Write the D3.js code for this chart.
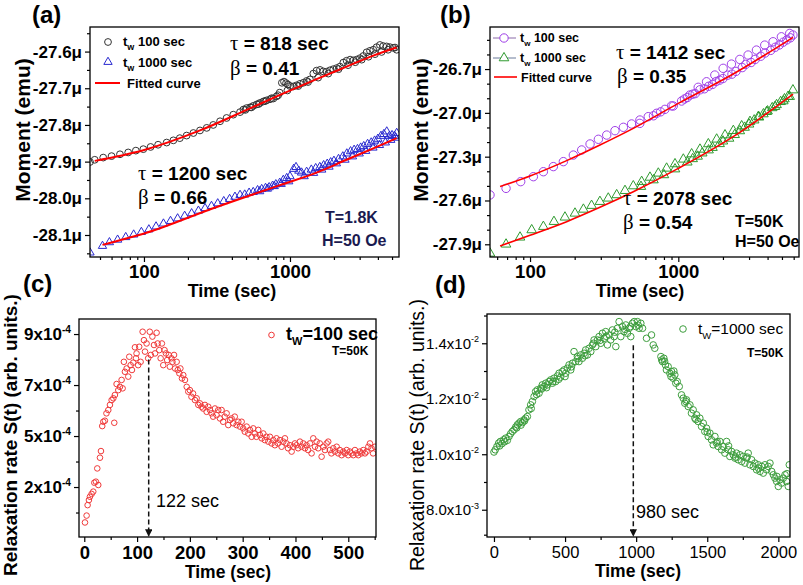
<!DOCTYPE html>
<html><head><meta charset="utf-8">
<script src="https://cdn.jsdelivr.net/npm/d3@7"></script>
<style>body{margin:0;background:#fff}svg{display:block}</style>
</head><body><svg id="c" width="803" height="585"></svg>
<script>
// ---------------- DATA ----------------
// Panel (a): T=1.8K, moment in μemu vs time (s)
const aPts100 = [[42.7,-27.901],[46,-27.895],[52.6,-27.889],[60,-27.885],[68.5,-27.880],[78,-27.875],[88,-27.870],[99,-27.866],[111,-27.860],[125,-27.854],[143,-27.848],[159,-27.842],[176,-27.836],[196,-27.829],[218,-27.822],[242,-27.815],[269,-27.808],[298,-27.800],[332,-27.790],[368,-27.781],[409,-27.772],[455,-27.765],[480,-27.758],[505,-27.754],[533,-27.752],[561,-27.748],[592,-27.744],[623,-27.740],[657,-27.736],[692,-27.733],[730,-27.730],[769,-27.728],[810,-27.722],[850,-27.712],[880,-27.685],[910,-27.682],[940,-27.686],[970,-27.690],[1000,-27.694],[1054,-27.695],[1110,-27.692],[1171,-27.688],[1235,-27.685],[1301,-27.680],[1370,-27.676],[1445,-27.660],[1520,-27.652],[1604,-27.650],[1690,-27.654],[1782,-27.655],[1880,-27.651],[1980,-27.648],[2090,-27.645],[2200,-27.641],[2320,-27.630],[2443,-27.625],[2580,-27.622],[2715,-27.624],[2860,-27.622],[3015,-27.618],[3180,-27.612],[3350,-27.602],[3530,-27.598],[3720,-27.595],[3920,-27.588],[4130,-27.582],[4350,-27.585],[4590,-27.586],[4840,-27.588],[5100,-27.590],[5380,-27.595],
[495,-27.759],[545,-27.752],[610,-27.743],[675,-27.735],[750,-27.727],[830,-27.719],[960,-27.706],[1140,-27.694],[1330,-27.683],[1560,-27.671],[1830,-27.660],[2150,-27.648],[2500,-27.637],[2800,-27.629],[3100,-27.622],[3450,-27.614],[3820,-27.607],[4240,-27.601],[4700,-27.595],[5240,-27.589]];
const aPts1000 = [[42.7,-28.148],[52,-28.130],[58,-28.120],[66,-28.113],[75,-28.106],[85,-28.099],[96,-28.092],[108,-28.085],[121,-28.077],[136,-28.069],[152,-28.062],[170,-28.055],[190,-28.048],[212,-28.041],[236,-28.034],[262,-28.027],[290,-28.021],[320,-28.014],[352,-28.008],[386,-28.002],[420,-27.996],[455,-27.991],[490,-27.990],[525,-27.985],[560,-27.983],[600,-27.978],[640,-27.975],[680,-27.972],[720,-27.970],[760,-27.966],[800,-27.962],[850,-27.958],[900,-27.950],[950,-27.945],[1000,-27.940],[1060,-27.920],[1100,-27.915],[1150,-27.925],[1200,-27.930],[1300,-27.928],[1400,-27.922],[1500,-27.918],[1600,-27.915],[1700,-27.910],[1800,-27.906],[1900,-27.902],[2000,-27.898],[2150,-27.893],[2300,-27.886],[2450,-27.878],[2600,-27.872],[2750,-27.868],[2900,-27.866],[3050,-27.862],[3200,-27.858],[3400,-27.852],[3600,-27.848],[3800,-27.843],[4000,-27.838],[4200,-27.830],[4400,-27.825],[4600,-27.818],[4800,-27.830],[5000,-27.828],[5200,-27.830],[5380,-27.822],
[620,-27.981],[700,-27.974],[780,-27.967],[870,-27.961],[980,-27.954],[1250,-27.940],[1450,-27.931],[1650,-27.922],[1850,-27.914],[2080,-27.905],[2380,-27.895],[2680,-27.886],[2980,-27.878],[3300,-27.871],[3700,-27.862],[4100,-27.855],[4500,-27.848],[4900,-27.841],[5300,-27.835]];
const aFit100  = [[46,-27.898],[99,-27.869],[242,-27.815],[505,-27.759],[855,-27.718],[1520,-27.675],[2443,-27.641],[3720,-27.611],[5380,-27.589]];
const aFit1000 = [[52,-28.127],[104,-28.094],[298,-28.027],[855,-27.964],[1520,-27.930],[2440,-27.895],[3720,-27.864],[5380,-27.836]];

// Panel (b): T=50K
const bPts100 = [[53.7,-27.562],[68.9,-27.517],[86.5,-27.471],[105.3,-27.437],[123,-27.403],[143.6,-27.368],[167.8,-27.334],[195.9,-27.289],[223,-27.254],[254,-27.213],[289,-27.181],[329,-27.152],[374,-27.122],[426,-27.099],[484,-27.076],[551,-27.049],[627,-27.026],[714,-27.003],[812,-26.976],[924,-26.953],[1052,-26.919],[1197,-26.878],[1362,-26.825],[1550,-26.787],[1763,-26.741],[2006,-26.695],[2283,-26.666],[2598,-26.634],[2956,-26.604],[3364,-26.570],[3828,-26.536],[4356,-26.513],[4956,-26.479],[5640,-26.456],[5930,-26.467],
[550,-27.072],[680,-27.020],[760,-26.993],[900,-26.952],[1100,-26.905],[1300,-26.868],[1500,-26.835],[1700,-26.805],[2000,-26.765],[2300,-26.735],[2700,-26.690],[3100,-26.655],[3600,-26.612],[4200,-26.572],[4800,-26.535],[5400,-26.500],
[1150,-26.895],[1250,-26.872],[1400,-26.842],[1600,-26.818],[1800,-26.785],[1900,-26.776],[2150,-26.742],[2450,-26.716],[2850,-26.668],[3300,-26.634],[3850,-26.590],[4500,-26.551],[5100,-26.516],[5700,-26.486]];
const bPts1000 = [[53.7,-27.962],[68.9,-27.900],[85.6,-27.852],[102.6,-27.802],[123,-27.779],[145,-27.745],[172,-27.715],[201,-27.688],[229,-27.661],[260,-27.635],[296,-27.608],[337,-27.585],[384,-27.562],[437,-27.533],[497,-27.501],[566,-27.471],[644,-27.442],[733,-27.414],[834,-27.380],[950,-27.350],[1081,-27.318],[1230,-27.282],[1400,-27.250],[1594,-27.213],[1814,-27.181],[2065,-27.152],[2350,-27.122],[2675,-27.090],[3044,-27.060],[3465,-27.026],[3944,-26.992],[4488,-26.958],[5108,-26.919],[5640,-26.889],[5930,-26.844],
[560,-27.505],[680,-27.460],[800,-27.425],[950,-27.385],[1150,-27.338],[1350,-27.298],[1600,-27.255],[1900,-27.212],[2200,-27.175],[2600,-27.124],[3000,-27.078],[3500,-27.030],[4000,-26.988],[4600,-26.945],[5200,-26.905],
[1250,-27.315],[1450,-27.276],[1700,-27.238],[2000,-27.194],[2400,-27.150],[2800,-27.100],[3250,-27.050],[3750,-27.008],[4300,-26.966],[4900,-26.924],[5500,-26.888]];
const bFit100  = [[62.8,-27.505],[100,-27.432],[176.6,-27.327],[296,-27.220],[497,-27.106],[1000,-26.935],[2345,-26.734],[5940,-26.483]];
const bFit1000 = [[62.8,-27.911],[100,-27.838],[176.6,-27.745],[296,-27.647],[497,-27.540],[1000,-27.380],[2345,-27.163],[5940,-26.871]];

// Panel (c): relaxation rate (units of 1e-4), tw = 100 s
const cPts = [[1.3,1.61],[4.4,1.88],[6.3,2.29],[8.8,2.49],[10.7,2.62],[13.9,2.73],[17,2.82],[19,3.17],[22,3.21],[24.6,3.73],[26.5,3.08],[29.7,4.15],[31.6,4.41],[34,5.39],[36,5.56],[39,5.6],[42,5.89],[45.5,6.02],[48.6,6.22],[51.8,6.41],[55,6.48],[56.8,5.52],[58,6.61],[61.2,7.04],[64.4,6.8],[67.5,6.93],[70.7,7.2],[72.6,6.87],[75,7.91],[77,7.52],[80.2,7.65],[83.3,7.33],[85.2,8.11],[87.8,7.78],[90.3,7.59],[92.8,7.88],[96,8.48],[97.9,8.05],[99,8.24],[102,7.78],[104,8.5],[106.7,7.91],[110.5,9.09],[113,8.76],[115,8.31],[118,8.63],[121,8.05],[124,9.09],[126,8.18],[129,8.9],[132,8.57],[134,8.24],[137,9.05],[139,8.63],[142,8.37],[144.6,8.05],[147,8.63],[149.6,7.78],[152,8.37],[154.7,8.24],[157,7.98],[160,8.18],[162,7.72],[165,8.05],[167,7.91],[170,8.18],[172,7.65],[175,7.91],[177,7.59],[180,7.46],[182,7.65],[185,7.26],[187.5,7.39],[190.7,7.2],[194,6.93],[197,6.74],[200,6.8],[203,6.54],[206,6.67],[209.6,6.41],[212.8,6.48],[216,6.22],[219,6.28],[222,6.15],[225,6.08],[228.5,6.22],[231.7,5.95],[234.8,6.15],[238,6.02],[241,5.89],[244,5.76],[247.5,6.08],[250.6,5.82],[253.8,6.02],[257,5.69],[260,6.02],[263,5.56],[266,5.76],[269.6,5.89],[272.7,5.43],[276,5.63],[279,5.69],[282,5.5],[285,5.76],[288.5,5.43],[291.7,5.56],[294.8,5.37],[298,5.56],[301,5.3],[304,5.17],[307.5,5.37],[310.6,5.1],[313.8,5.24],[317,4.97],[320,5.3],[323,5.1],[326,4.97],[329.5,5.24],[332.7,5.04],[336,4.91],[339,5.1],[342,4.84],[345,4.97],[348.5,4.78],[351.6,4.97],[354.8,4.71],[358,4.84],[361,4.64],[364,4.91],[367,4.71],[370.6,4.84],[373.7,4.58],[377,4.78],[380,4.91],[383,4.71],[386,4.52],[389.5,4.64],[392.7,4.39],[395.8,4.58],[399,4.71],[402,4.64],[405,4.52],[408.5,4.78],[411.6,4.58],[414.8,4.71],[418,4.52],[421,4.64],[424,4.45],[427.4,4.71],[430.5,4.32],[433.7,4.91],[437,4.58],[440,4.78],[443,4.52],[446,4.71],[449.5,4.19],[452.6,4.58],[455.8,4.45],[459,4.71],[462,4.78],[465,4.45],[468,4.32],[471.6,4.52],[474.7,4.39],[478,4.58],[481,4.32],[484,4.45],[487.4,4.25],[490.5,4.39],[493.7,4.32],[497,4.45],[500,4.25],[503,4.39],[506,4.32],[509.5,4.25],[512.6,4.45],[515.8,4.32],[519,4.25],[522,4.39],[525,4.32],[528.4,4.45],[531.6,4.32],[534.7,4.39],[538,4.58],[541,4.71],[544,4.52],[547,4.32],[550.5,4.58]];
const cPeak = 122;

// Panel (d): relaxation rate (units of 1e-2), tw = 1000 s
const dPts = [[0,1.008],[9,1.016],[21,1.028],[33,1.04],[45,1.046],[56,1.038],[68,1.052],[82,1.058],[94,1.05],[106,1.064],[117,1.074],[129,1.082],[141,1.088],[153,1.098],[164,1.106],[176,1.112],[188,1.118],[200,1.114],[211,1.124],[223,1.13],[235,1.136],[246,1.16],[258,1.178],[270,1.19],[282,1.208],[293,1.226],[305,1.232],[317,1.22],[329,1.238],[340,1.25],[352,1.244],[364,1.256],[376,1.25],[387,1.262],[399,1.268],[411,1.256],[422,1.274],[434,1.262],[446,1.282],[458,1.292],[469,1.278],[481,1.298],[493,1.304],[505,1.292],[516,1.31],[528,1.322],[540,1.304],[552,1.328],[563,1.37],[575,1.334],[587,1.352],[598,1.334],[610,1.358],[622,1.346],[634,1.364],[645,1.376],[657,1.358],[669,1.382],[681,1.37],[692,1.394],[704,1.412],[716,1.388],[728,1.412],[739,1.424],[751,1.4],[763,1.436],[775,1.418],[786,1.442],[798,1.394],[810,1.43],[821,1.412],[833,1.448],[845,1.424],[857,1.388],[868,1.454],[880,1.478],[892,1.424],[904,1.46],[915,1.442],[927,1.466],[939,1.436],[951,1.454],[962,1.424],[974,1.472],[986,1.478],[998,1.46],[1009,1.478],[1021,1.454],[1033,1.472],[1045,1.454],[1073,1.418],[1108,1.43],[1120,1.394],[1131,1.382],
[1174,1.352],[1185,1.334],[1195,1.346],[1206,1.322],[1213,1.304],[1225,1.316],[1237,1.292],[1249,1.298],[1260,1.274],[1272,1.286],[1279,1.256],[1289,1.262],[1303,1.244],[1319,1.214],[1331,1.202],[1342,1.184],[1354,1.196],[1366,1.172],[1378,1.178],[1389,1.148],[1401,1.16],[1413,1.13],[1425,1.142],[1436,1.118],[1448,1.13],[1460,1.1],[1472,1.112],[1483,1.082],[1495,1.094],[1507,1.064],[1519,1.076],[1530,1.052],[1542,1.034],[1554,1.064],[1565,1.04],[1577,1.028],[1589,1.046],[1601,1.016],[1612,1.028],[1624,1.004],[1636,1.046],[1648,1.016],[1659,0.992],[1671,1.01],[1683,0.998],[1695,0.986],[1706,1.004],[1718,0.98],[1730,0.998],[1742,0.974],[1753,0.992],[1765,0.968],[1777,0.986],[1788,1.004],[1800,0.962],[1812,0.98],[1824,0.956],[1835,0.968],[1847,0.944],[1859,0.962],[1871,0.938],[1883,0.956],[1894,0.932],[1906,0.962],[1918,0.944],[1929,0.956],[1941,0.968],[1953,0.938],[1965,0.926],[1976,0.914],[1988,0.902],[2000,0.884],[2011,0.908],[2023,0.896],[2035,0.914],[2047,0.926],[2058,0.902],[2070,0.884],[2077,0.962],
[40,1.03],[75,1.045],[160,1.095],[190,1.105],[215,1.12],[262,1.165],[300,1.215],[335,1.235],[370,1.24],[415,1.262],[455,1.27],[500,1.28],[545,1.315],[590,1.345],[640,1.355],[700,1.4],[745,1.41],[790,1.425],[850,1.44],[920,1.45],[960,1.46],[1015,1.465],[1180,1.34],[1200,1.335],[1245,1.28],[1265,1.3],[1350,1.19],[1420,1.125],[1500,1.08],[1570,1.045],[1650,1.03],[1700,0.99],[1780,0.99],[1860,0.95],[1990,0.92],[2060,0.93]];
const dPeak = 980;

// Tick values / labels
const abXTicks = [100, 1000];
const aYTicks = [-27.6, -27.7, -27.8, -27.9, -28.0, -28.1];
const bYTicks = [-26.7, -27.0, -27.3, -27.6, -27.9];
const cXTicks = [0, 100, 200, 300, 400, 500];
const cYTicks = [9, 7, 5, 3];
const cYLabels = ["9x10", "7x10", "5x10", "2x10"];
const cYExp = ["-4", "-4", "-4", "-4"];
const dXTicks = [0, 500, 1000, 1500, 2000];
const dYTicks = [1.4, 1.2, 1.0, 0.8];
const dYLabels = ["1.4x10", "1.2x10", "1.0x10", "8.0x10"];
const dYExp = ["-2", "-2", "-2", "-3"];

// ---------------- DRAWING ----------------
const FONT = '"Liberation Sans", Arial, Helvetica, sans-serif';
const SERIF = '"Liberation Serif", "Times New Roman", serif';
const svg = d3.select("#c");
svg.append("rect").attr("width", 803).attr("height", 585).attr("fill", "#fff");
const defs = svg.append("defs");
defs.append("marker").attr("id", "arr").attr("viewBox", "0 0 10 10").attr("refX", 9).attr("refY", 5)
  .attr("markerWidth", 5).attr("markerHeight", 5).attr("orient", "auto")
  .append("path").attr("d", "M0,0L10,5L0,10Z").attr("fill", "#111");

function clip(id, b) {
  defs.append("clipPath").attr("id", id).append("rect")
    .attr("x", b.x0).attr("y", b.y0).attr("width", b.x1 - b.x0).attr("height", b.y1 - b.y0);
}
function frame(b) {
  svg.append("rect").attr("x", b.x0).attr("y", b.y0).attr("width", b.x1 - b.x0).attr("height", b.y1 - b.y0)
    .attr("fill", "none").attr("stroke", "#000").attr("stroke-width", 1.3);
}
function styleAxis(a, fs, fw) {
  a.select(".domain").remove();
  a.selectAll("line").attr("stroke", "#000").attr("stroke-width", 1.2);
  a.selectAll("text").attr("font-family", FONT).attr("font-size", fs).attr("font-weight", fw).attr("fill", "#000");
}
function yAxis(b, scale, majors, minors, fmt, fs, fw, exps) {
  const a = svg.append("g").attr("transform", `translate(${b.x0},0)`)
    .call(d3.axisLeft(scale).tickValues(majors).tickSize(5).tickSizeOuter(0).tickPadding(3).tickFormat(fmt));
  styleAxis(a, fs, fw);
  if (exps) a.selectAll("text").each(function (d, i) {
    d3.select(this).append("tspan").attr("dy", -fs * 0.42).attr("font-size", fs * 0.6).text(exps[i]);
  });
  const m = svg.append("g").attr("transform", `translate(${b.x0},0)`)
    .call(d3.axisLeft(scale).tickValues(minors).tickSize(3).tickSizeOuter(0).tickFormat(""));
  styleAxis(m, fs, fw);
}
function xAxis(b, scale, majors, minors, fmt, fs, fw, pad) {
  const a = svg.append("g").attr("transform", `translate(0,${b.y1})`)
    .call(d3.axisBottom(scale).tickValues(majors).tickSize(5).tickSizeOuter(0).tickPadding(pad).tickFormat(fmt));
  styleAxis(a, fs, fw);
  const m = svg.append("g").attr("transform", `translate(0,${b.y1})`)
    .call(d3.axisBottom(scale).tickValues(minors).tickSize(3).tickSizeOuter(0).tickFormat(""));
  styleAxis(m, fs, fw);
}
function txt(x, y, s, fs, fw, opts = {}) {
  const t = svg.append("text").attr("x", x).attr("y", y).attr("font-family", FONT)
    .attr("font-size", fs).attr("font-weight", fw).attr("fill", opts.fill || "#000").text(s);
  if (opts.anchor) t.attr("text-anchor", opts.anchor);
  return t;
}
function vtxt(x, y, s, fs, fw) {
  svg.append("text").attr("transform", `translate(${x},${y}) rotate(-90)`).attr("text-anchor", "middle")
    .attr("font-family", FONT).attr("font-size", fs).attr("font-weight", fw).attr("fill", "#000").text(s);
}
function greek(x, y, sym, rest, fs) {
  const t = svg.append("text").attr("x", x).attr("y", y).attr("font-family", FONT).attr("font-size", fs)
    .attr("font-weight", "bold").attr("fill", "#000");
  t.append("tspan").attr("font-family", SERIF).attr("font-weight", "normal").attr("font-size", fs * 1.1).text(sym);
  t.append("tspan").text(rest);
}
function subLabel(x, y, main, sub, rest, fs, fw, subfs, subdy) {
  const t = svg.append("text").attr("x", x).attr("y", y).attr("font-family", FONT).attr("font-size", fs)
    .attr("font-weight", fw).attr("fill", "#000");
  t.append("tspan").text(main);
  t.append("tspan").attr("font-size", subfs).attr("dy", subdy).text(sub);
  t.append("tspan").attr("dy", -subdy).text(rest);
}
const logMinors = (lo, hi) => {
  const out = [];
  [10, 100, 1000].forEach(dec => { for (let k = 2; k <= 9; k++) { const v = k * dec; if (v > lo && v < hi) out.push(v); } });
  return out;
};
const tri = (area) => d3.symbol().type(d3.symbolTriangle).size(area)();

// ===== Panel (a) =====
const A = { x0: 90, y0: 27, x1: 399, y1: 257 };
const ax = d3.scaleLog().domain([42.7, 5580]).range([A.x0, A.x1]);
const ay = d3.scaleLinear().domain([-28.16, -27.533]).range([A.y1, A.y0]);
clip("clipA", A);
const gA = svg.append("g").attr("clip-path", "url(#clipA)");
gA.selectAll("path.t").data(aPts1000).join("path").attr("d", tri(30))
  .attr("transform", d => `translate(${ax(d[0])},${ay(d[1])})`).attr("fill", "none").attr("stroke", "#2a2ad0").attr("stroke-width", 1);
gA.selectAll("circle").data(aPts100).join("circle").attr("cx", d => ax(d[0])).attr("cy", d => ay(d[1])).attr("r", 3.4)
  .attr("fill", "none").attr("stroke", "#333").attr("stroke-width", 1);
const lineA = d3.line().x(d => ax(d[0])).y(d => ay(d[1])).curve(d3.curveMonotoneX);
[aFit100, aFit1000].forEach(f => gA.append("path").attr("d", lineA(f)).attr("fill", "none").attr("stroke", "#ff0000").attr("stroke-width", 2));
frame(A);
yAxis(A, ay, aYTicks, [-27.55, -27.65, -27.75, -27.85, -27.95, -28.05, -28.15], d => d.toFixed(1) + "μ", 17, "bold");
xAxis(A, ax, abXTicks, logMinors(42.7, 5580), d3.format("d"), 18.5, "bold", 3);
txt(232, 297, "Time (sec)", 18, "bold", { anchor: "middle" });
vtxt(30, 130, "Moment (emu)", 21, "bold");
txt(32, 23, "(a)", 24, "bold");
// legend (a)
svg.append("circle").attr("cx", 108).attr("cy", 42).attr("r", 3.4).attr("fill", "none").attr("stroke", "#333");
svg.append("path").attr("d", tri(30)).attr("transform", "translate(108,62)").attr("fill", "none").attr("stroke", "#2a2ad0");
svg.append("line").attr("x1", 95).attr("x2", 120).attr("y1", 83).attr("y2", 83).attr("stroke", "#ff0000").attr("stroke-width", 2);
subLabel(123, 46, "t", "w", " 100 sec", 13, "bold", 9, 4);
subLabel(123, 67, "t", "w", " 1000 sec", 13, "bold", 9, 4);
txt(127, 88, "Fitted curve", 13, "bold");
greek(230, 50, "τ", " = 818 sec", 19);
greek(230, 75, "β", " = 0.41", 19);
greek(138, 180, "τ", " = 1200 sec", 19);
greek(138, 204, "β", " = 0.66", 19);
txt(325, 223, "T=1.8K", 16, "bold", { fill: "#1a1a50" });
txt(322, 246, "H=50 Oe", 16, "bold", { fill: "#1a1a50" });

// ===== Panel (b) =====
const B = { x0: 490, y0: 27, x1: 799, y1: 257 };
const bx = d3.scaleLog().domain([53.7, 6516]).range([B.x0, B.x1]);
const by = d3.scaleLinear().domain([-27.987, -26.412]).range([B.y1, B.y0]);
clip("clipB", B);
const gB = svg.append("g").attr("clip-path", "url(#clipB)");
gB.selectAll("path.t").data(bPts1000).join("path").attr("d", tri(40))
  .attr("transform", d => `translate(${bx(d[0])},${by(d[1])})`).attr("fill", "none").attr("stroke", "#2f9a2f").attr("stroke-width", 1);
gB.selectAll("circle").data(bPts100).join("circle").attr("cx", d => bx(d[0])).attr("cy", d => by(d[1])).attr("r", 4.2)
  .attr("fill", "none").attr("stroke", "#a040e8").attr("stroke-width", 1);
const lineB = d3.line().x(d => bx(d[0])).y(d => by(d[1])).curve(d3.curveMonotoneX);
[bFit100, bFit1000].forEach(f => gB.append("path").attr("d", lineB(f)).attr("fill", "none").attr("stroke", "#ff0000").attr("stroke-width", 1.6));
frame(B);
yAxis(B, by, bYTicks, [-26.5, -26.6, -26.8, -26.9, -27.1, -27.2, -27.4, -27.5, -27.7, -27.8], d => d.toFixed(1) + "μ", 17, "bold");
xAxis(B, bx, abXTicks, logMinors(53.7, 6516), d3.format("d"), 18.5, "bold", 3);
txt(640, 297, "Time (sec)", 18, "bold", { anchor: "middle" });
vtxt(428, 130, "Moment (emu)", 21, "bold");
txt(440, 23, "(b)", 24, "bold");
// legend (b)
[[38, "#8a6aa8"], [58, "#6a7a9a"]].forEach(([y, c]) => svg.append("line").attr("x1", 493).attr("x2", 516).attr("y1", y).attr("y2", y).attr("stroke", c).attr("stroke-width", 1));
svg.append("circle").attr("cx", 504).attr("cy", 38).attr("r", 4.2).attr("fill", "#fff").attr("stroke", "#a040e8");
svg.append("path").attr("d", tri(40)).attr("transform", "translate(504,58)").attr("fill", "#fff").attr("stroke", "#2f9a2f");
svg.append("line").attr("x1", 494).attr("x2", 517).attr("y1", 77).attr("y2", 77).attr("stroke", "#ff0000").attr("stroke-width", 1.6);
subLabel(520, 42, "t", "w", " 100 sec", 12.5, "bold", 8, 4);
subLabel(520, 62, "t", "w", " 1000 sec", 12.5, "bold", 8, 4);
txt(521, 82, "Fitted curve", 12.5, "bold");
greek(616, 59, "τ", " = 1412 sec", 19);
greek(617, 83, "β", " = 0.35", 19);
greek(623, 205, "τ", " = 2078 sec", 19);
greek(623, 229, "β", " = 0.54", 19);
txt(735, 227, "T=50K", 16, "bold");
txt(735, 247, "H=50 Oe", 16, "bold");

// ===== Panel (c) =====
const C = { x0: 79, y0: 319, x1: 376, y1: 537 };
const cx = d3.scaleLinear().domain([-10, 552.5]).range([C.x0, C.x1]);
const cy = d3.scaleLinear().domain([1.04, 9.59]).range([C.y1, C.y0]);
clip("clipC", C);
const gC = svg.append("g").attr("clip-path", "url(#clipC)");
gC.selectAll("circle").data(cPts).join("circle").attr("cx", d => cx(d[0])).attr("cy", d => cy(d[1])).attr("r", 2.8)
  .attr("fill", "none").attr("stroke", "#f03a3a").attr("stroke-width", 1);
svg.append("line").attr("x1", cx(cPeak)).attr("x2", cx(cPeak)).attr("y1", cy(8.0)).attr("y2", C.y1 - 1)
  .attr("stroke", "#111").attr("stroke-width", 1.5).attr("stroke-dasharray", "5,3").attr("marker-end", "url(#arr)");
frame(C);
yAxis(C, cy, cYTicks, [8, 6, 4, 2], (d, i) => cYLabels[i], 17, "bold", cYExp);
xAxis(C, cx, cXTicks, [50, 150, 250, 350, 450, 550], d3.format("d"), 18.5, "bold", 4);
txt(228, 578, "Time (sec)", 17.5, "bold", { anchor: "middle" });
vtxt(17, 435, "Relaxation rate S(t) (arb. units.)", 19, "bold");
txt(23, 292, "(c)", 24, "bold");
svg.append("circle").attr("cx", 271.5).attr("cy", 335).attr("r", 2.8).attr("fill", "none").attr("stroke", "#f03a3a");
subLabel(286, 340, "t", "W", "=100 sec", 18, "bold", 11, 5);
txt(332, 355, "T=50K", 12, "bold");
txt(156, 507, cPeak + " sec", 18, "normal");

// ===== Panel (d) =====
const D = { x0: 487, y0: 314, x1: 790, y1: 537 };
const dx = d3.scaleLinear().domain([-49, 2082]).range([D.x0, D.x1]);
const dy = d3.scaleLinear().domain([0.7017, 1.5055]).range([D.y1, D.y0]);
clip("clipD", D);
const gD = svg.append("g").attr("clip-path", "url(#clipD)");
gD.selectAll("circle").data(dPts).join("circle").attr("cx", d => dx(d[0])).attr("cy", d => dy(d[1])).attr("r", 3.3)
  .attr("fill", "none").attr("stroke", "#3e9e3e").attr("stroke-width", 1);
svg.append("line").attr("x1", dx(dPeak)).attr("x2", dx(dPeak)).attr("y1", dy(1.393)).attr("y2", D.y1 - 1)
  .attr("stroke", "#111").attr("stroke-width", 1.5).attr("stroke-dasharray", "5,3").attr("marker-end", "url(#arr)");
frame(D);
yAxis(D, dy, dYTicks, [1.5, 1.3, 1.1, 0.9, 0.71], (d, i) => dYLabels[i], 15, "normal", dYExp);
xAxis(D, dx, dXTicks, [250, 750, 1250, 1750], d3.format("d"), 16.5, "normal", 4);
txt(638, 577, "Time (sec)", 17.5, "bold", { anchor: "middle" });
vtxt(424, 435, "Relaxation rate S(t) (arb. units.)", 19.5, "normal");
txt(435, 293, "(d)", 24, "bold");
svg.append("circle").attr("cx", 683).attr("cy", 329).attr("r", 3.3).attr("fill", "none").attr("stroke", "#3e9e3e");
subLabel(698, 334, "t", "W", "=1000 sec", 15.5, "normal", 9.5, 5);
txt(747, 357, "T=50K", 12, "bold");
txt(636, 518, dPeak + " sec", 18, "normal");
</script>
</body></html>
